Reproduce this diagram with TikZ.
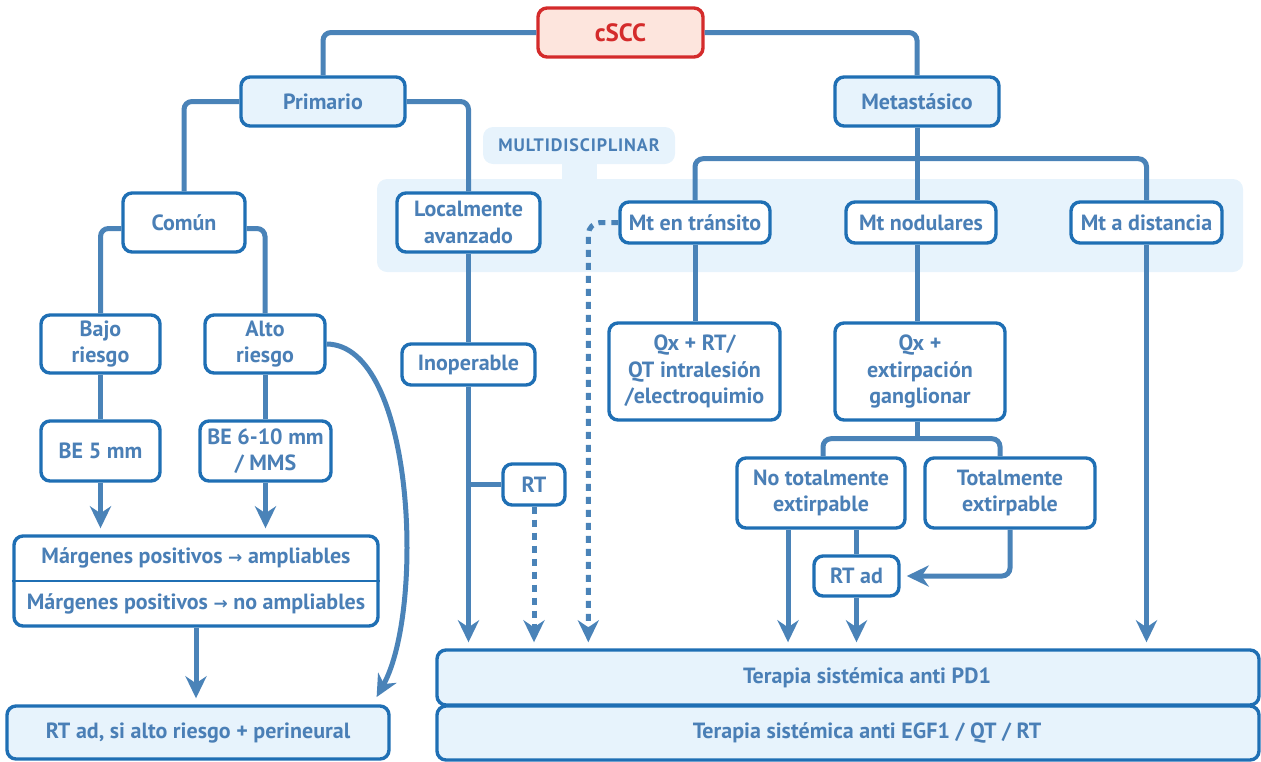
\documentclass[tikz,border=0pt]{standalone}
\usepackage{fontspec}
\setmainfont{PT Sans}
\newfontfamily\arrowfont{DejaVu Sans}
\usetikzlibrary{arrows.meta,calc}
\definecolor{linec}{HTML}{4A83B8}
\definecolor{borderc}{HTML}{1F6FB4}
\definecolor{fillc}{HTML}{E7F3FC}
\definecolor{textc}{HTML}{4A7FB6}
\definecolor{redb}{HTML}{D42B2B}
\definecolor{redf}{HTML}{FDE5DD}
\newcommand{\rarr}{{\arrowfont\fontsize{17}{17}\selectfont →}}
\begin{document}
\begin{tikzpicture}[x=1pt,y=-1pt,
 box/.style={draw=borderc, line width=3.4pt, rounded corners=9pt, fill=white, text=textc,
   font=\bfseries\fontsize{22}{26.5}\selectfont, align=center, inner sep=0pt},
 bw/.style 2 args={minimum width=#1pt, minimum height=#2pt},
 conn/.style={draw=linec, line width=5pt, rounded corners=8pt},
 arr/.style={conn, -{Stealth[length=22pt,width=21pt,inset=7pt]}, shorten >=6pt},
 dconn/.style={dash pattern=on 7pt off 6pt},
]
\useasboundingbox (0,0) rectangle (1261,761);
% background panel
\fill[fillc, rounded corners=10pt] (377,179) rectangle (1243,272);
\fill[fillc] (562,160) rectangle (597,181);
\node[fill=fillc, rounded corners=10pt, minimum width=192pt, minimum height=37pt, inner sep=0pt,
  text=textc, font=\bfseries\fontsize{18}{18}\selectfont\addfontfeatures{LetterSpace=5}] (multi) at (579,145.5) {MULTIDISCIPLINAR};

% nodes
\node[box, bw={165}{49}, draw=redb, fill=redf, text=redb, font=\bfseries\fontsize{25}{26}\selectfont] (cscc) at (620.5,32.5) {cSCC};
\node[box, bw={164}{49}, fill=fillc] (prim) at (323,101.5) {Primario};
\node[box, bw={164}{49}, fill=fillc] (meta) at (917,101.5) {Metastásico};
\node[box, bw={122}{59}] (comun) at (184,222.5) {Común};
\node[box, bw={143}{59}] (local) at (468.5,222.5) {Localmente\\avanzado};
\node[box, bw={150}{41}] (trans) at (695,222.5) {Mt en tránsito};
\node[box, bw={150}{41}] (nodul) at (921,222.5) {Mt nodulares};
\node[box, bw={151}{41}] (dist) at (1146.5,222.5) {Mt a distancia};
\node[box, bw={119}{58}] (bajo) at (100.5,344) {Bajo\\riesgo};
\node[box, bw={120}{58}] (alto) at (265,344) {Alto\\riesgo};
\node[box, bw={119}{60}] (be5) at (100.5,451) {BE 5 mm};
\node[box, bw={131}{60}] (be6) at (265.5,451) {BE 6-10 mm\\/ MMS};
\node[box, bw={364}{90}, font=\bfseries\fontsize{22}{46}\selectfont] (marg) at (196,581)
  {Márgenes positivos \rarr{} ampliables\\Márgenes positivos \rarr{} no ampliables};
\draw[borderc, line width=2.6pt] (marg.west) -- (marg.east);
\node[box, bw={382}{53}, fill=fillc] (rtad1) at (198,732.5) {RT ad, si alto riesgo + perineural};
\node[box, bw={133}{41}] (inop) at (468.5,364.5) {Inoperable};
\node[box, bw={62}{41}] (rt) at (534,484.5) {RT};
\node[box, bw={171}{97}] (qxrt) at (694.5,371.5) {Qx + RT/\\QT intralesión\\/electroquimio};
\node[box, bw={170}{97}] (qxext) at (920,371.5) {Qx +\\extirpación\\ganglionar};
\node[box, bw={168}{70}] (notot) at (821,493) {No totalmente\\extirpable};
\node[box, bw={170}{70}] (tot) at (1010,493) {Totalmente\\extirpable};
\node[box, bw={85}{40}] (rtad2) at (856.5,576) {RT ad};
\node[box, bw={822}{55}, fill=fillc] (pd1) at (848,677.5) {\hspace*{38pt}Terapia sistémica anti PD1};
\node[box, bw={822}{54}, fill=fillc] (egf) at (848,733) {\hspace*{38pt}Terapia sistémica anti EGF1 / QT / RT};

% connectors
\draw[conn] (cscc.west) -| (prim.north);
\draw[conn] (cscc.east) -| (meta.north);
\draw[conn] (prim.west) -| (comun.north);
\draw[conn] (prim.east) -| (local.north);
\draw[conn] (meta.south) -- (meta.south |- nodul.north);
\draw[conn] (trans.north) |- ([yshift=-31pt]meta.south) -| (dist.north);
\draw[conn] ([yshift=-6pt]comun.west) -| (bajo.north);
\draw[conn] ([yshift=-6pt]comun.east) -| (alto.north);
\draw[conn] (bajo.south) -- (be5.north);
\draw[conn] (alto.south) -- (alto.south |- be6.north);
\draw[arr] (be5.south) -- (be5.south |- marg.north);
\draw[arr] (be6.south) -- (be6.south |- marg.north);
\draw[arr] (marg.south) -- (marg.south |- rtad1.north);
\draw[arr] (alto.east) .. controls (415,345) and (425,610) .. ($(rtad1.north east)+(-17,-2)$);
\draw[conn] (local.south) -- (inop.north);
\draw[arr] (inop.south) -- (inop.south |- pd1.north);
\draw[conn] (inop.south |- rt.west) -- (rt.west);
\draw[arr, dconn] (rt.south) -- (rt.south |- pd1.north);
\draw[arr, dconn, rounded corners=12pt] (trans.west) -| ([xshift=-30pt]trans.west |- pd1.north);
\draw[conn] (trans.south) -- (trans.south |- qxrt.north);
\draw[conn] (meta.south |- nodul.south) -- (meta.south |- qxext.north);
\coordinate (j) at ($(meta.south |- qxext.south)+(0,17)$);
\draw[conn] (meta.south |- qxext.south) -- (j);
\draw[conn] ([xshift=2pt]notot.north) |- (j) -| ([xshift=-10pt]tot.north);
\draw[arr] ([xshift=-33pt]notot.south) -- ([xshift=-33pt]notot.south |- pd1.north);
\draw[conn] (rtad2.north |- notot.south) -- (rtad2.north);
\draw[arr] (rtad2.south) -- (rtad2.south |- pd1.north);
\draw[arr] (tot.south) |- (rtad2.east);
\draw[arr] (dist.south) -- (dist.south |- pd1.north);
\end{tikzpicture}
\end{document}
